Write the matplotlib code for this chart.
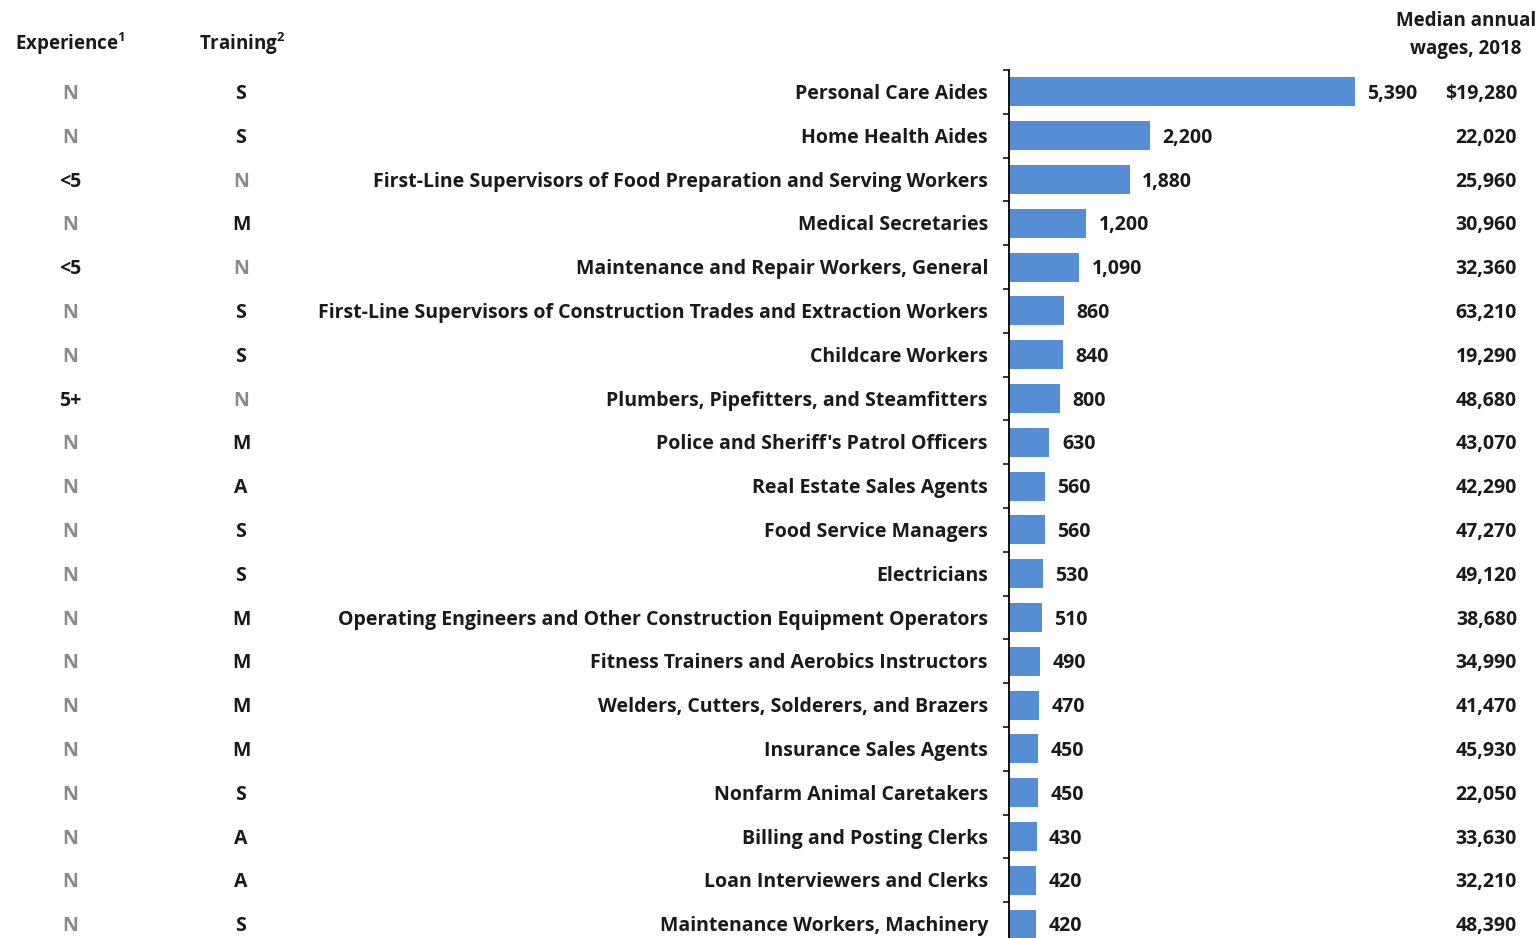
import matplotlib
matplotlib.use("Agg")
import matplotlib.pyplot as plt
from matplotlib.transforms import blended_transform_factory, offset_copy
import numpy as np

# ---- data ----
occupations = [
    "Personal Care Aides",
    "Home Health Aides",
    "First-Line Supervisors of Food Preparation and Serving Workers",
    "Medical Secretaries",
    "Maintenance and Repair Workers, General",
    "First-Line Supervisors of Construction Trades and Extraction Workers",
    "Childcare Workers",
    "Plumbers, Pipefitters, and Steamfitters",
    "Police and Sheriff's Patrol Officers",
    "Real Estate Sales Agents",
    "Food Service Managers",
    "Electricians",
    "Operating Engineers and Other Construction Equipment Operators",
    "Fitness Trainers and Aerobics Instructors",
    "Welders, Cutters, Solderers, and Brazers",
    "Insurance Sales Agents",
    "Nonfarm Animal Caretakers",
    "Billing and Posting Clerks",
    "Loan Interviewers and Clerks",
    "Maintenance Workers, Machinery",
]
openings = [5390, 2200, 1880, 1200, 1090, 860, 840, 800, 630, 560,
            560, 530, 510, 490, 470, 450, 450, 430, 420, 420]
wages = ["$19,280", "22,020", "25,960", "30,960", "32,360", "63,210", "19,290",
         "48,680", "43,070", "42,290", "47,270", "49,120", "38,680", "34,990",
         "41,470", "45,930", "22,050", "33,630", "32,210", "48,390"]
experience = ["N", "N", "<5", "N", "<5", "N", "N", "5+", "N", "N",
              "N", "N", "N", "N", "N", "N", "N", "N", "N", "N"]
training = ["S", "S", "N", "M", "N", "S", "S", "N", "M", "A",
            "S", "S", "M", "M", "M", "M", "S", "A", "A", "S"]

BAR = "#558ed5"
DARK = "#1a1a1a"
GRAY = "#8a8a8a"
FONT = "Open Sans"
FS = 14
WT = "bold"

W, H = 1539, 938
fig = plt.figure(figsize=(W / 100, H / 100), dpi=100)
plt.rcParams["font.family"] = [FONT, "DejaVu Sans"]

# axes: spine at x=1009 px, top at 70 px, bottom just below the picture
left, top, bottom = 1009 / W, 70 / H, 946 / H
ax = fig.add_axes([left, 1 - bottom, 385 / W, bottom - top])

y = np.arange(len(occupations))
ax.barh(y, openings, height=0.66, color=BAR)
ax.set_xlim(0, 6000)
ax.set_ylim(len(occupations) - 0.5, -0.5)

for s in ["top", "right", "bottom"]:
    ax.spines[s].set_visible(False)
ax.spines["left"].set_linewidth(1.3)
ax.set_xticks([])
ax.set_yticks([])
ax.set_yticks(np.arange(len(occupations) + 1) - 0.5, minor=True)
ax.tick_params(axis="y", which="minor", direction="out", length=4.5, width=1.1, labelleft=False)

# value labels next to bars
for yi, v in zip(y, openings):
    ax.annotate(f"{v:,}", (v, yi), xytext=(9, -1.5), textcoords="offset points",
                va="center", ha="left", fontsize=FS, fontweight=WT, color=DARK)

tr = offset_copy(blended_transform_factory(fig.transFigure, ax.transData),
                 fig=fig, y=-1.5, units="points")
for yi, occ, w, ex, t in zip(y, occupations, wages, experience, training):
    ax.text(988 / W, yi, occ, transform=tr, ha="right", va="center",
            fontsize=FS, fontweight=WT, color=DARK)
    ax.text(1517 / W, yi, w, transform=tr, ha="right", va="center",
            fontsize=FS, fontweight=WT, color=DARK)
    ax.text(70 / W, yi, ex, transform=tr, ha="center", va="center",
            fontsize=FS, fontweight=WT, color=GRAY if ex == "N" else DARK)
    ax.text(241 / W, yi, t, transform=tr, ha="center", va="center",
            fontsize=FS, fontweight=WT, color=GRAY if t == "N" else DARK)

# column headers
fig.text(70 / W, 1 - 44 / H, "Experience$^{\\mathregular{1}}$", ha="center", va="center",
         fontsize=FS - 0.5, fontweight=WT, color=DARK)
fig.text(242 / W, 1 - 44 / H, "Training$^{\\mathregular{2}}$", ha="center", va="center",
         fontsize=FS - 0.5, fontweight=WT, color=DARK)
fig.text(1466 / W, 1 - 35 / H, "Median annual\nwages, 2018", ha="center", va="center",
         fontsize=FS - 0.5, fontweight=WT, color=DARK, linespacing=1.5)

fig.savefig("out.png", dpi=100, facecolor="white")
